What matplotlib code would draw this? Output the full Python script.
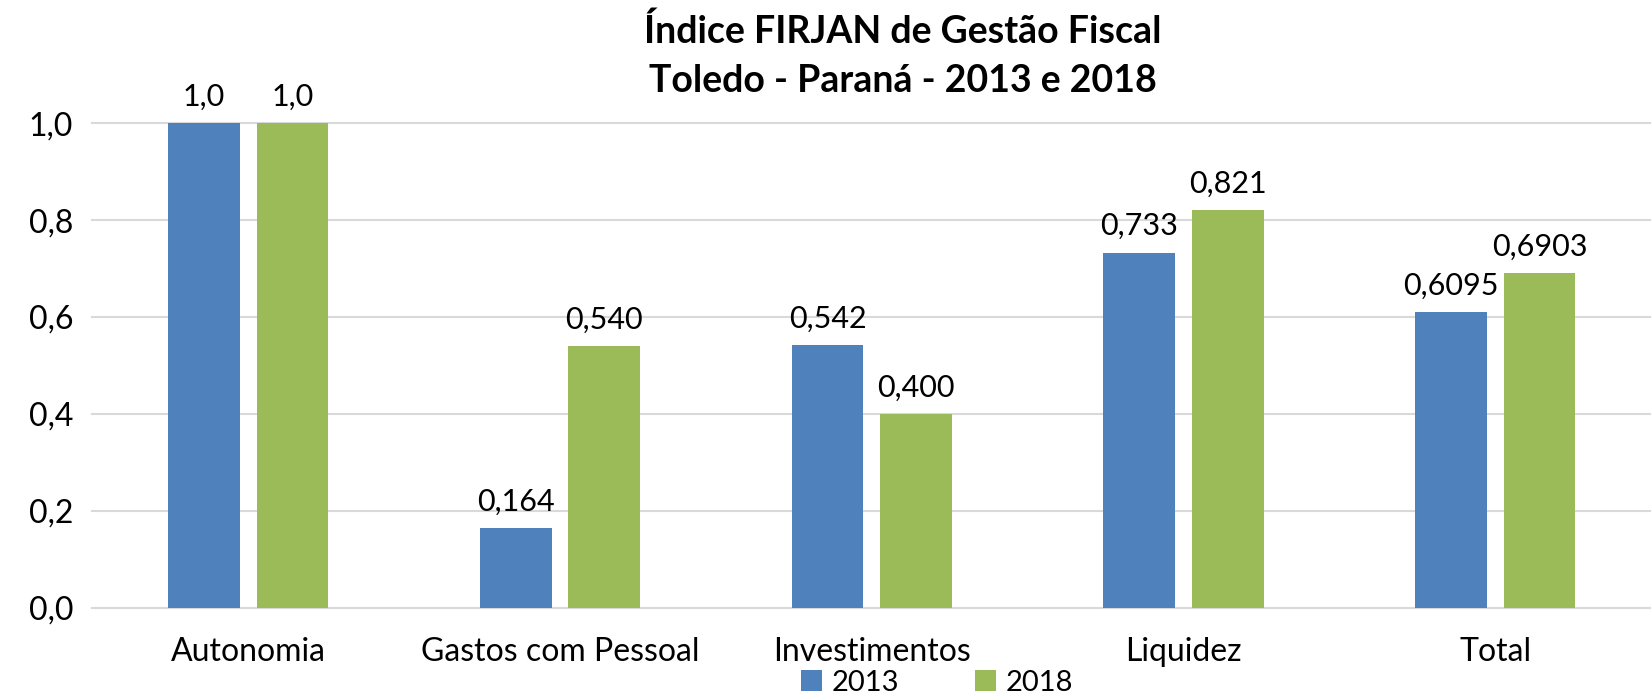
import matplotlib.pyplot as plt
import numpy as np

plt.rcParams['font.family'] = ['Lato', 'DejaVu Sans']

categorias = ['Autonomia', 'Gastos com Pessoal', 'Investimentos', 'Liquidez', 'Total']
v2013 = [1.0, 0.164, 0.542, 0.733, 0.6095]
v2018 = [1.0, 0.540, 0.400, 0.821, 0.6903]
rot2013 = ['1,0', '0,164', '0,542', '0,733', '0,6095']
rot2018 = ['1,0', '0,540', '0,400', '0,821', '0,6903']
yticks = [0.0, 0.2, 0.4, 0.6, 0.8, 1.0]
ytick_labels = ['0,0', '0,2', '0,4', '0,6', '0,8', '1,0']

azul = '#4F81BD'
verde = '#9BBB59'

fig = plt.figure(figsize=(16.51, 6.96), dpi=100)
ax = fig.add_axes([0.056, 0.127, 0.944, 0.696])

x = np.arange(len(categorias))
w = 0.23
b1 = ax.bar(x - 0.142, v2013, w, color=azul, label='2013', zorder=3)
b2 = ax.bar(x + 0.142, v2018, w, color=verde, label='2018', zorder=3)

# rótulos de dados acima das barras
for bars, rots in ((b1, rot2013), (b2, rot2018)):
    for b, r in zip(bars, rots):
        ax.annotate(r, (b.get_x() + b.get_width() / 2, b.get_height()),
                    xytext=(0, 9), textcoords='offset points',
                    ha='center', va='bottom', fontsize=22)

ax.set_xlim(-0.5, len(categorias) - 0.5)
ax.set_ylim(0, 1.0)
ax.set_yticks(yticks)
ax.set_yticklabels(ytick_labels, fontsize=23)
ax.set_xticks(x)
ax.set_xticklabels(categorias, fontsize=23)
ax.tick_params(length=0)
ax.tick_params(axis='x', pad=21)
ax.tick_params(axis='y', pad=14)
ax.grid(axis='y', color='#d9d9d9', linewidth=1.5, zorder=0)
ax.set_axisbelow(True)
for s in ax.spines.values():
    s.set_visible(False)
for line in ax.get_ygridlines():
    line.set_clip_on(False)

fig.text(0.547, 0.955, 'Índice FIRJAN de Gestão Fiscal',
         ha='center', va='center', fontsize=27, fontweight='bold')
fig.text(0.547, 0.884, 'Toledo - Paraná - 2013 e 2018',
         ha='center', va='center', fontsize=27, fontweight='bold')

ax.legend(loc='upper center', bbox_to_anchor=(0.542, -0.098), ncol=2, frameon=False,
          fontsize=21, handlelength=0.7, handleheight=0.7, columnspacing=2.6,
          handletextpad=0.35, borderpad=0.0)

fig.savefig('out.png', dpi=100)
